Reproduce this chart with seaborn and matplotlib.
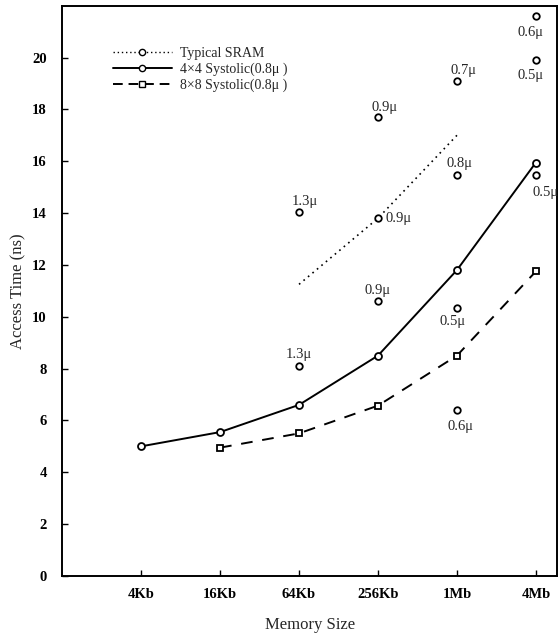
import matplotlib
matplotlib.use('Agg')
import matplotlib.pyplot as plt
import seaborn as sns
import pandas as pd

# memory sizes on the x axis
sizes = ['4Kb', '16Kb', '64Kb', '256Kb', '1Mb', '4Mb']

# 4x4 systolic (0.8u)
sys4_sizes = ['4Kb', '16Kb', '64Kb', '256Kb', '1Mb', '4Mb']
sys4_time = [5.0, 5.55, 6.6, 8.5, 11.8, 15.95]

# 8x8 systolic (0.8u)
sys8_sizes = ['16Kb', '64Kb', '256Kb', '1Mb', '4Mb']
sys8_time = [4.95, 5.5, 6.57, 8.5, 11.75]

# typical SRAM trend (dotted)
sram_sizes = ['64Kb', '256Kb', '1Mb']
sram_time = [11.25, 13.8, 17.0]

# individual SRAM parts, with process
pt_sizes = ['64Kb', '64Kb', '256Kb', '256Kb', '256Kb', '1Mb', '1Mb', '1Mb', '1Mb', '4Mb', '4Mb', '4Mb']
pt_time = [14.05, 8.1, 17.7, 13.8, 10.6, 19.1, 15.45, 10.35, 6.4, 21.6, 19.9, 15.45]
pt_label = ['1.3μ', '1.3μ', '0.9μ', '0.9μ', '0.9μ', '0.7μ', '0.8μ', '0.5μ', '0.6μ', '0.6μ', '0.5μ', '0.5μ']
# label offset in pixels (dx, dy)
pt_off = [(6, 10), (0, 11), (7, 10), (8, 0), (0, 11), (7, 10), (3, 12), (-4, -14), (4, -16), (-5, -16), (-5, -15), (10, -17)]

pos = {s: i for i, s in enumerate(sizes)}

sns.set_theme(style='ticks')
plt.rcParams['font.family'] = ['Liberation Serif', 'DejaVu Serif']

fig = plt.figure(figsize=(5.6, 6.35), dpi=100)
ax = fig.add_axes([0.111, 0.093, 0.884, 0.898])

df4 = pd.DataFrame({'x': [pos[s] for s in sys4_sizes], 'y': sys4_time})
df8 = pd.DataFrame({'x': [pos[s] for s in sys8_sizes], 'y': sys8_time})
dfs = pd.DataFrame({'x': [pos[s] for s in sram_sizes], 'y': sram_time})
dfp = pd.DataFrame({'x': [pos[s] for s in pt_sizes], 'y': pt_time})

sns.lineplot(data=dfs, x='x', y='y', ax=ax, color='black', lw=1.2,
             linestyle=(0, (1, 2.5)), label='_nolegend_')
sns.lineplot(data=df4, x='x', y='y', ax=ax, color='black', lw=1.4,
             marker='o', markersize=5, markerfacecolor='white',
             markeredgecolor='black', markeredgewidth=1.3, label='_nolegend_')
sns.lineplot(data=df8, x='x', y='y', ax=ax, color='black', lw=1.4,
             linestyle=(0, (6, 5)), marker='s', markersize=5,
             markerfacecolor='white', markeredgecolor='black',
             markeredgewidth=1.3, label='_nolegend_')
sns.scatterplot(data=dfp, x='x', y='y', ax=ax, marker='o', s=22,
                facecolor='white', edgecolor='black', linewidth=1.3, zorder=4)

for s, v, lab, off in zip(pt_sizes, pt_time, pt_label, pt_off):
    ax.annotate(lab, (pos[s], v), xytext=off, textcoords='offset pixels',
                ha='left' if off == (8, 0) else 'center', va='center', fontsize=10.5)

# legend handles
h1, = ax.plot([], [], color='black', lw=1.0, linestyle=(0, (1, 2)), marker='o',
              markersize=4.5, markerfacecolor='white', markeredgecolor='black')
h2, = ax.plot([], [], color='black', lw=1.4, marker='o', markersize=4.5,
              markerfacecolor='white', markeredgecolor='black')
h3, = ax.plot([], [], color='black', lw=1.4, linestyle=(0, (5, 3)), marker='s',
              markersize=5, markerfacecolor='white', markeredgecolor='black')
ax.legend([h1, h2, h3], ['Typical SRAM', '4×4 Systolic(0.8μ )', '8×8 Systolic(0.8μ )'],
          loc='upper left', bbox_to_anchor=(0.078, 0.95), frameon=False,
          fontsize=10, handlelength=4.2, labelspacing=0.2, handletextpad=0.6)

ax.set_xlim(-1, 5.27)
ax.set_ylim(0, 22)
ax.set_xticks(range(len(sizes)))
ax.set_xticklabels(sizes)
ax.set_yticks(range(0, 21, 2))
ax.tick_params(direction='in', length=4, width=1, labelsize=10.5, colors='black')
ax.tick_params(axis='y', pad=11)
ax.tick_params(axis='x', pad=9)
for lab in ax.get_xticklabels() + ax.get_yticklabels():
    lab.set_fontweight('bold')
for sp in ax.spines.values():
    sp.set_linewidth(1.4)
    sp.set_color('black')
ax.set_xlabel('Memory Size', fontsize=12, labelpad=11)
ax.set_ylabel('Access Time (ns)', fontsize=12, labelpad=4)

fig.savefig('out.png', dpi=100)
